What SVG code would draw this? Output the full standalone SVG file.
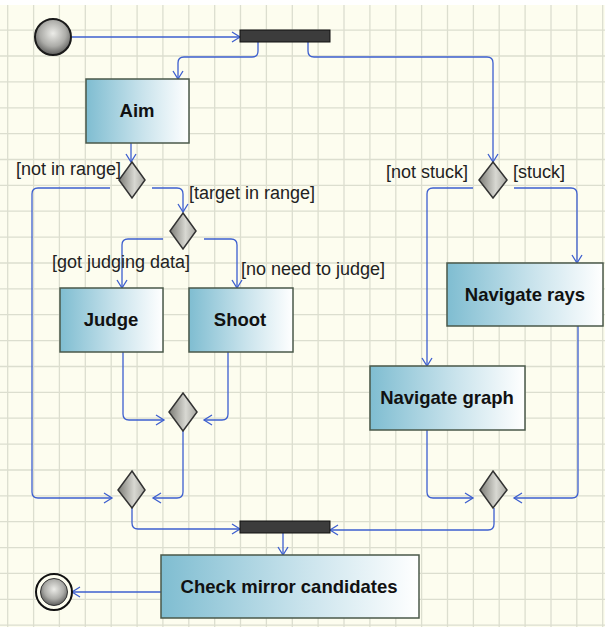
<svg xmlns="http://www.w3.org/2000/svg" width="605" height="627" viewBox="0 0 605 627">
<defs>
<linearGradient id="box" x1="0" y1="0" x2="1" y2="0">
<stop offset="0" stop-color="#7fbdd1"/>
<stop offset="0.55" stop-color="#c9e3ec"/>
<stop offset="1" stop-color="#ffffff"/>
</linearGradient>
<linearGradient id="dia" x1="0" y1="0" x2="1" y2="0">
<stop offset="0" stop-color="#7c7c76"/>
<stop offset="0.6" stop-color="#d8d8d2"/>
<stop offset="1" stop-color="#a8a8a2"/>
</linearGradient>
<radialGradient id="ball" cx="0.5" cy="0.4" r="0.6">
<stop offset="0" stop-color="#ececE8"/>
<stop offset="0.6" stop-color="#acaca8"/>
<stop offset="1" stop-color="#5c5c5a"/>
</radialGradient>
<marker id="arr" markerUnits="userSpaceOnUse" markerWidth="12" markerHeight="12" viewBox="-10 -6 12 12" refX="0" refY="0" orient="auto">
<path d="M-8,-5 L0,0 L-8,5" fill="none" stroke="#3d5fcf" stroke-width="1.3"/>
</marker>
</defs>
<style>
.act rect{fill:url(#box);stroke:#4a584a;stroke-width:1.5}
.act text{font-family:"Liberation Sans",Arial,sans-serif;font-weight:bold;font-size:18.5px;fill:#111;text-anchor:middle}
.dec polygon{fill:url(#dia);stroke:#333;stroke-width:1.5}
.bar rect{fill:#3c3c3c;stroke:#111;stroke-width:1}
.conn path{fill:none;stroke:#3d5fcf;stroke-width:1.3;marker-end:url(#arr)}
.lbl{font-family:"Liberation Sans",Arial,sans-serif;font-size:18px;fill:#222}
</style>
<rect x="0" y="0" width="605" height="627" fill="#ffffff"/>
<rect x="0" y="5" width="605" height="622" fill="#fdfdef"/>
<path stroke="#dcdecf" stroke-width="1.3" fill="none" d="M7.7,5V627M33.6,5V627M59.4,5V627M85.3,5V627M111.2,5V627M137.1,5V627M162.9,5V627M188.8,5V627M214.7,5V627M240.5,5V627M266.4,5V627M292.3,5V627M318.1,5V627M344,5V627M369.9,5V627M395.8,5V627M421.6,5V627M447.5,5V627M473.4,5V627M499.2,5V627M525.1,5V627M551,5V627M576.8,5V627M602.7,5V627M0,30.2H605M0,56H605M0,81.9H605M0,107.8H605M0,133.6H605M0,159.5H605M0,185.4H605M0,211.2H605M0,237.1H605M0,263H605M0,288.9H605M0,314.7H605M0,340.6H605M0,366.5H605M0,392.3H605M0,418.2H605M0,444.1H605M0,470H605M0,495.8H605M0,521.7H605M0,547.6H605M0,573.4H605M0,599.3H605M0,625.2H605"/>

<g id="connectors" class="conn">
<path d="M72,37 H240"/>
<path d="M258,42 V51 Q258,57 252,57 H184 Q178,57 178,63 V79"/>
<path d="M308,42 V51 Q308,57 314,57 H487 Q493,57 493,63 V162"/>
<path d="M131,143 V162"/>
<path d="M110,188 H38 Q32,188 32,194 V492 Q32,498 38,498 H112"/>
<path d="M152,188 H177 Q183,188 183,194 V212"/>
<path d="M163,239 H128 Q122,239 122,245 V288"/>
<path d="M204,239 H231 Q237,239 237,245 V288"/>
<path d="M123,352 V414 Q123,420 129,420 H164"/>
<path d="M228,352 V414 Q228,420 222,420 H204"/>
<path d="M183,431 V492 Q183,498 177,498 H153"/>
<path d="M132,508 V523 Q132,529 138,529 H240"/>
<path d="M494,508 V524 Q494,530 488,530 H330"/>
<path d="M283,533 V555"/>
<path d="M161,592 H72"/>
<path d="M473,188 H433 Q427,188 427,194 V366"/>
<path d="M514,188 H571 Q577,188 577,194 V263"/>
<path d="M427,430 V492 Q427,498 433,498 H473"/>
<path d="M578,326 V492 Q578,498 572,498 H514"/>
</g>

<g id="start"><circle cx="53" cy="37" r="18" fill="url(#ball)" stroke="#1a1a1a" stroke-width="2"/></g>
<g id="end">
<circle cx="54" cy="592" r="18" fill="#fdfdef" stroke="#111" stroke-width="2"/>
<circle cx="54" cy="592" r="13.5" fill="url(#ball)" stroke="#333" stroke-width="1"/>
</g>

<g id="fork" class="bar"><rect x="240" y="30" width="90" height="12"/></g>
<g id="join" class="bar"><rect x="240" y="521" width="90" height="12"/></g>

<g id="aim" class="act"><rect x="86" y="79" width="103" height="64"/><text x="137" y="117">Aim</text></g>
<g id="judge" class="act"><rect x="60" y="288" width="103" height="64"/><text x="111" y="326">Judge</text></g>
<g id="shoot" class="act"><rect x="189" y="288" width="104" height="64"/><text x="240" y="326">Shoot</text></g>
<g id="navrays" class="act"><rect x="447" y="263" width="156" height="63"/><text x="525" y="301">Navigate rays</text></g>
<g id="navgraph" class="act"><rect x="370" y="366" width="155" height="64"/><text x="447" y="404">Navigate graph</text></g>
<g id="check" class="act"><rect x="161" y="555" width="258" height="63"/><text x="289" y="593">Check mirror candidates</text></g>

<g id="d_range" class="dec"><polygon points="132,162 145,180 132,198 119,180"/></g>
<g id="d_judge" class="dec"><polygon points="183,213 196,231 183,249 170,231"/></g>
<g id="d_stuck" class="dec"><polygon points="493,162 507,180 493,198 479,180"/></g>
<g id="m_js" class="dec"><polygon points="183,393 197,412 183,431 169,412"/></g>
<g id="m_left" class="dec"><polygon points="132,471 145,490 132,508 118,490"/></g>
<g id="m_right" class="dec"><polygon points="493,471 507,490 493,508 480,490"/></g>

<g id="labels">
<text class="lbl" x="16" y="175">[not in range]</text>
<text class="lbl" x="189" y="199">[target in range]</text>
<text class="lbl" x="52" y="268">[got judging data]</text>
<text class="lbl" x="241" y="275">[no need to judge]</text>
<text class="lbl" x="386" y="178">[not stuck]</text>
<text class="lbl" x="513" y="178">[stuck]</text>
</g>
</svg>
